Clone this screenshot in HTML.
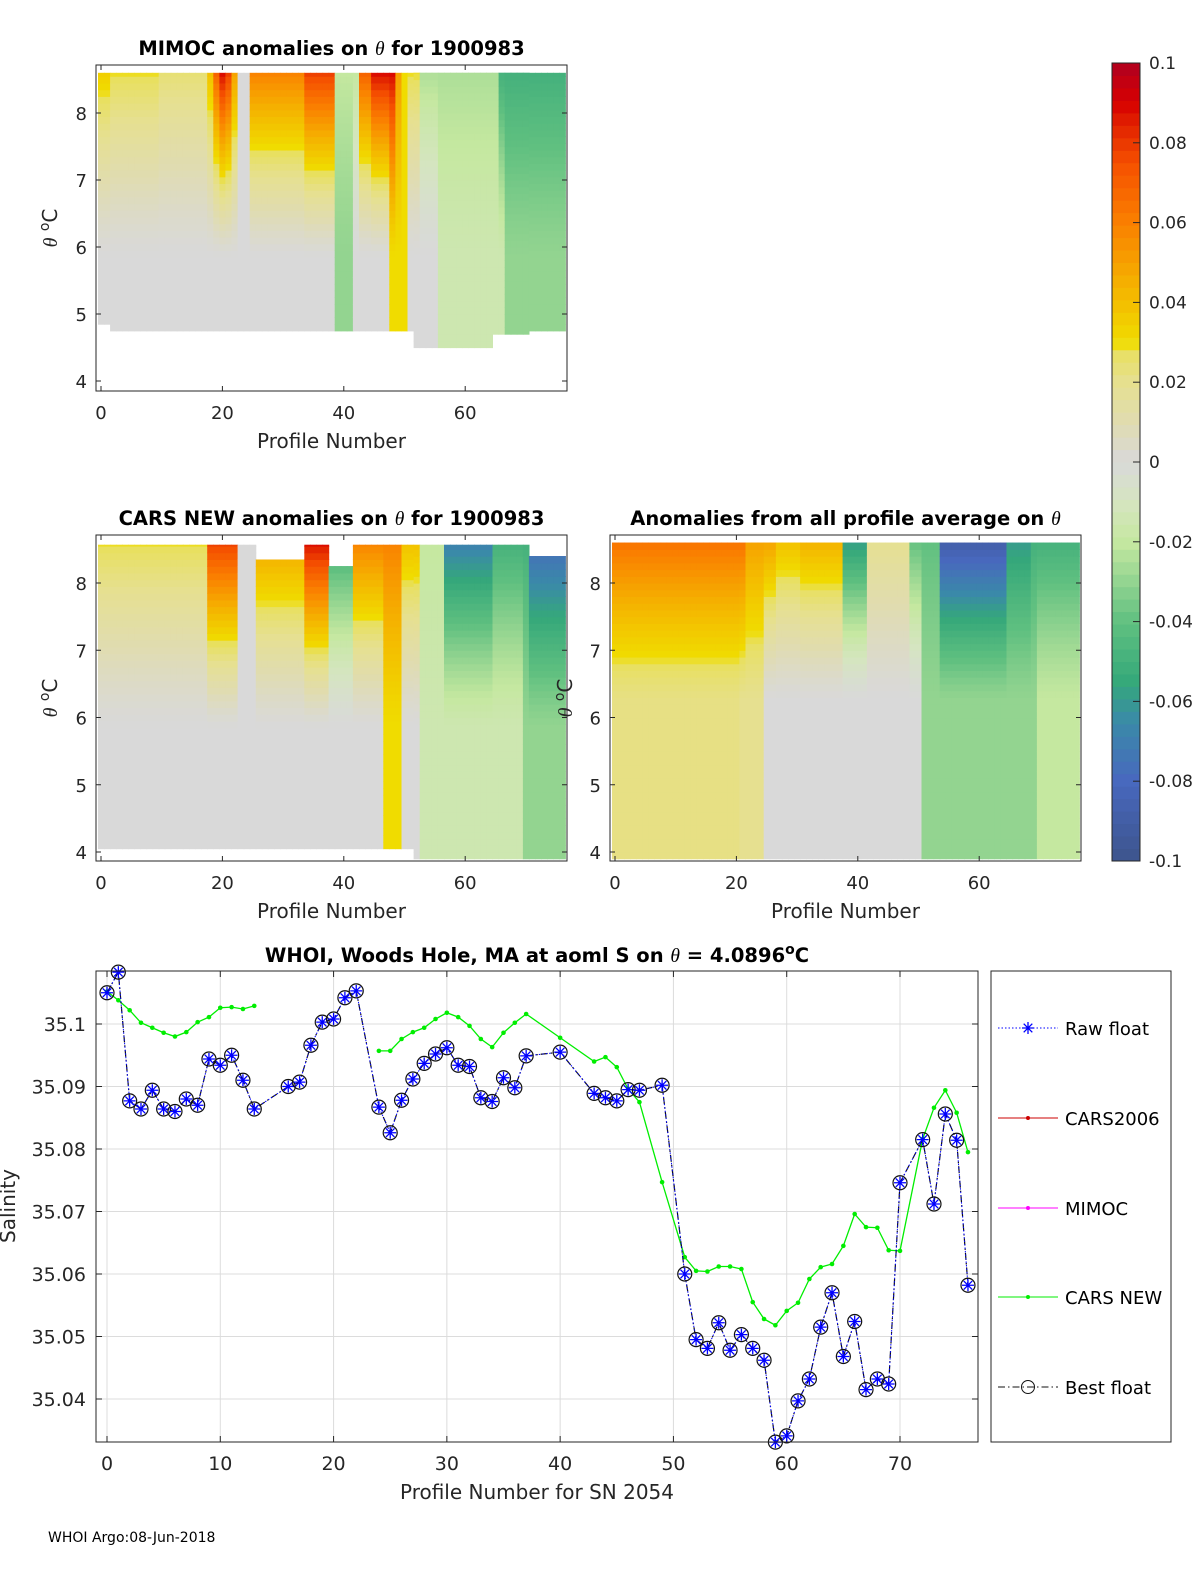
<!DOCTYPE html>
<html><head><meta charset="utf-8"><style>
body{margin:0;background:#fff;}
svg{display:block;font-family:"DejaVu Sans","Liberation Sans",sans-serif;}
</style></head><body>
<svg id="fig" width="1200" height="1575" viewBox="0 0 1200 1575" xmlns="http://www.w3.org/2000/svg">
<rect width="1200" height="1575" fill="#fff"/>
<g id="hm1"></g>
<g id="hm2"></g>
<g id="hm3"></g>
<g id="cbar"></g>
<g id="line"></g>
<text x="48" y="1542" font-size="14">WHOI Argo:08-Jun-2018</text>
</svg>
<script>
function rep(v,n){return Array(n).fill(v);}
const mimocTop=[].concat(rep(0.035,2),rep(0.03,8),rep(0.025,8),[0.04,0.07,0.09,0.08,0.05],rep(0,2),rep(0.06,9),rep(0.08,5),rep(-0.02,4),[0.07,0.07],rep(0.09,4),[0.05],rep(0.03,3),rep(-0.025,13),rep(-0.05,11));
const mimocMid=[].concat(rep(0,39),rep(-0.03,3),rep(0,6),rep(0.03,3),rep(0,5),rep(-0.015,11),rep(-0.03,10));
const carsTop=[].concat(rep(0.03,18),rep(0.08,5),rep(0,3),rep(0.05,8),rep(0.09,4),rep(-0.05,4),rep(0.06,8),rep(0.04,3),rep(-0.02,4),rep(-0.07,8),rep(-0.05,6),rep(-0.08,6));
const carsMid=[].concat(rep(0,47),rep(0.03,3),rep(0,3),rep(-0.015,17),rep(-0.03,7));
const avgTop=[].concat(rep(0.065,22),rep(0.05,5),rep(0.04,4),rep(0.045,7),rep(-0.06,4),rep(0.02,7),rep(-0.04,5),rep(-0.09,11),rep(-0.06,4),rep(-0.05,8));
const avgMid=[].concat(rep(0.022,21),rep(0.02,4),rep(0,26),rep(-0.03,19),rep(-0.02,7));

const bestX=[0,1,2,3,4,5,6,7,8,9,10,11,12,13,16,17,18,19,20,21,22,24,25,26,27,28,29,30,31,32,33,34,35,36,37,40,43,44,45,46,47,49,51,52,53,54,55,56,57,58,59,60,61,62,63,64,65,66,67,68,69,70,72,73,74,75,76];
const bestY=[35.105,35.1083,35.0877,35.0864,35.0894,35.0864,35.086,35.088,35.087,35.0944,35.0934,35.095,35.091,35.0864,35.090,35.0907,35.0966,35.1003,35.1008,35.1042,35.1053,35.0867,35.0826,35.0878,35.0912,35.0937,35.0952,35.0962,35.0934,35.0932,35.0882,35.0876,35.0914,35.0898,35.0949,35.0955,35.0889,35.0882,35.0877,35.0895,35.0894,35.0902,35.0600,35.0495,35.0481,35.0522,35.0478,35.0503,35.0481,35.0462,35.0331,35.0341,35.0397,35.0432,35.0515,35.0570,35.0468,35.0524,35.0415,35.0432,35.0424,35.0746,35.0815,35.0712,35.0856,35.0814,35.0582];
const carsX=[0,1,2,3,4,5,6,7,8,9,10,11,12,13,24,25,26,27,28,29,30,31,32,33,34,35,36,37,40,43,44,45,46,47,49,51,52,53,54,55,56,57,58,59,60,61,62,63,64,65,66,67,68,69,70,72,73,74,75,76];
const carsY=[35.1052,35.1038,35.1022,35.1002,35.0994,35.0986,35.098,35.0987,35.1003,35.1011,35.1026,35.1027,35.1024,35.1029,35.0957,35.0957,35.0976,35.0987,35.0994,35.1008,35.1018,35.1011,35.0997,35.0976,35.0963,35.0986,35.1002,35.1016,35.0978,35.094,35.0947,35.0931,35.0896,35.0875,35.0747,35.0627,35.0605,35.0604,35.0612,35.0612,35.0608,35.0555,35.0528,35.0518,35.0541,35.0554,35.0592,35.0611,35.0616,35.0645,35.0696,35.0675,35.0674,35.0638,35.0637,35.0816,35.0866,35.0894,35.0858,35.0795];
const xTicks=[0,10,20,30,40,50,60,70];
const yTicks=[35.04,35.05,35.06,35.07,35.08,35.09,35.1];
const yTickLabels=["35.04","35.05","35.06","35.07","35.08","35.09","35.1"];
const hmXTicks=[0,20,40,60];
const hmYTicks=[4,5,6,7,8];
const cbTicks=[-0.1,-0.08,-0.06,-0.04,-0.02,0,0.02,0.04,0.06,0.08,0.1];
const cbLabels=["-0.1","-0.08","-0.06","-0.04","-0.02","0","0.02","0.04","0.06","0.08","0.1"];

const NS="http://www.w3.org/2000/svg";
function el(tag,attrs,parent,txt){const e=document.createElementNS(NS,tag);for(const k in attrs)e.setAttribute(k,attrs[k]);if(txt!==undefined)e.textContent=txt;parent.appendChild(e);return e;}
const stops=[[-0.1,[61,84,140]],[-0.08,[72,104,190]],[-0.065,[58,138,168]],[-0.055,[53,168,122]],[-0.04,[96,192,128]],[-0.02,[197,232,160]],[-0.01,[213,229,192]],[0,[217,217,217]],[0.01,[224,220,176]],[0.02,[230,224,144]],[0.028,[232,224,96]],[0.03,[240,220,0]],[0.045,[245,176,0]],[0.06,[250,128,0]],[0.075,[245,80,0]],[0.085,[224,32,0]],[0.09,[216,0,0]],[0.1,[176,0,32]]];
function cmap(v){v=Math.max(-0.1,Math.min(0.1,v));for(let i=1;i<stops.length;i++){if(v<=stops[i][0]){const a=stops[i-1],b=stops[i];const t=(v-a[0])/(b[0]-a[0]);const c=a[1].map((x,j)=>Math.round(x+(b[1][j]-x)*t));return `rgb(${c[0]},${c[1]},${c[2]})`;}}return "rgb(176,0,32)";}

function heatmap(gid,box,yA,topArr,midArr,tTop,tBot,title,ylab,names,lo){
  const g=document.getElementById(gid);
  const sx=c=>box.x0+c*6.07;
  const sy=t=>yA.y8+(8-t)*yA.k;
  for(let c=0;c<topArr.length;c++){
    const tb=tBot(c),tt=tTop(c);
    for(let t=tb;t<tt;t+=0.1){
      const f=Math.max(0,Math.min(1,(t-lo)/(8.6-lo)));
      const v=midArr[c]+(topArr[c]-midArr[c])*Math.pow(f,1.3);
      const r=el('rect',{x:sx(c-0.5).toFixed(1),y:sy(Math.min(t+0.1,tt)).toFixed(1),width:6.6,height:(Math.min(0.1,tt-t)*yA.k+0.6).toFixed(1),fill:cmap(v)},g);
      
      
    }
  }
  const fr=el('rect',{x:box.x,y:box.y,width:box.w,height:box.h,fill:'none',stroke:'#262626','stroke-width':1},g);
  
  hmXTicks.forEach(v=>{const x=sx(v);el('line',{x1:x,x2:x,y1:box.y+box.h,y2:box.y+box.h-5,stroke:'#262626'},g);el('line',{x1:x,x2:x,y1:box.y,y2:box.y+5,stroke:'#262626'},g);
    const t=el('text',{x:x,y:box.y+box.h+28,'font-size':18,'text-anchor':'middle',fill:'#262626'},g,String(v));});
  hmYTicks.forEach(v=>{const y=sy(v);el('line',{x1:box.x,x2:box.x+5,y1:y,y2:y,stroke:'#262626'},g);el('line',{x1:box.x+box.w,x2:box.x+box.w-5,y1:y,y2:y,stroke:'#262626'},g);
    const t=el('text',{x:box.x-9,y:y+7,'font-size':18,'text-anchor':'end',fill:'#262626'},g,String(v));});
  const tt=el('text',{x:box.x+box.w/2,y:box.y-10,'font-size':19.5,'font-weight':'bold','text-anchor':'middle',fill:'#000'},g);
  tt.innerHTML=title;
  const xl=el('text',{x:box.x+box.w/2,y:box.y+box.h+57,'font-size':20,'text-anchor':'middle',fill:'#262626'},g,'Profile Number');
  
  const yl=el('text',{x:0,y:0,'font-size':20,'text-anchor':'middle',fill:'#262626',transform:`translate(${ylab},${box.y+box.h/2}) rotate(-90)`},g);
  yl.innerHTML='<tspan font-family="Liberation Serif" font-style="italic">θ</tspan> <tspan baseline-shift="super" font-size="14">o</tspan>C';
  
}
heatmap('hm1',{x:96,y:65,w:471,h:326,x0:101},{y8:113,k:67},mimocTop,mimocMid,
  c=>8.6,c=>(c<2?4.85:(c>=52&&c<=64?4.5:(c>=65&&c<=70?4.7:4.75))),
  'MIMOC anomalies on <tspan font-family="Liberation Serif" font-style="italic" font-weight="normal">θ</tspan>  for 1900983',57,'mimoc',5.8);
heatmap('hm2',{x:96,y:535,w:471,h:326,x0:101},{y8:583,k:67.25},carsTop,carsMid,
  c=>(c>=26&&c<=33?8.35:(c>=38&&c<=41?8.25:(c>=71?8.4:8.57))),c=>(c>=52?3.9:4.05),
  'CARS NEW anomalies on <tspan font-family="Liberation Serif" font-style="italic" font-weight="normal">θ</tspan> for 1900983',57,'cars-new',5.8);
heatmap('hm3',{x:610,y:535,w:471,h:326,x0:615},{y8:583,k:67.25},avgTop,avgMid,
  c=>8.6,c=>3.9,
  'Anomalies from all profile average on <tspan font-family="Liberation Serif" font-style="italic" font-weight="normal">θ</tspan>',572,'average',6.2);

(function(){const g=document.getElementById('cbar');const y0=63,y1=861,x=1112,w=28;
  const sy=v=>y1-(v+0.1)/0.2*(y1-y0);
  for(let i=0;i<64;i++){const v=-0.1+(i+0.5)*0.2/64;const r=el('rect',{x:x,y:sy(-0.1+(i+1)*0.2/64),width:w,height:(y1-y0)/64+0.5,fill:cmap(v)},g);}
  el('rect',{x:x,y:y0,width:w,height:y1-y0,fill:'none',stroke:'#262626'},g);
  cbTicks.forEach((v,i)=>{const y=sy(v);el('line',{x1:x+w-7,x2:x+w,y1:y,y2:y,stroke:'#262626'},g);
    const t=el('text',{x:1149,y:y+6,'font-size':17,fill:'#262626'},g,cbLabels[i]);});
})();

(function(){const g=document.getElementById('line');
  const L=96,R=978,T=971,B=1442;
  const sx=v=>107+v*(900-107)/70;
  const sy=v=>1024+(35.1-v)*6250;
  el('rect',{x:L,y:T,width:R-L,height:B-T,fill:'#fff'},g);
  xTicks.forEach(v=>{el('line',{x1:sx(v),x2:sx(v),y1:T,y2:B,stroke:'#dcdcdc'},g);
    el('line',{x1:sx(v),x2:sx(v),y1:B,y2:B-6,stroke:'#262626'},g);el('line',{x1:sx(v),x2:sx(v),y1:T,y2:T+6,stroke:'#262626'},g);
    const t=el('text',{x:sx(v),y:B+28,'font-size':19,'text-anchor':'middle',fill:'#262626'},g,String(v));});
  yTicks.forEach((v,i)=>{el('line',{x1:L,x2:R,y1:sy(v),y2:sy(v),stroke:'#dcdcdc'},g);
    el('line',{x1:L,x2:L+6,y1:sy(v),y2:sy(v),stroke:'#262626'},g);el('line',{x1:R,x2:R-6,y1:sy(v),y2:sy(v),stroke:'#262626'},g);
    const t=el('text',{x:L-10,y:sy(v)+7,'font-size':19,'text-anchor':'end',fill:'#262626'},g,yTickLabels[i]);});
  let segs=[[]];carsX.forEach((x,i)=>{if(i>0&&x-carsX[i-1]>5)segs.push([]);segs[segs.length-1].push(sx(x)+','+sy(carsY[i]));});
  segs.forEach(s=>{const p=el('polyline',{points:s.join(' '),fill:'none',stroke:'#00ee00','stroke-width':1.3},g);});
  carsX.forEach((x,i)=>{const c=el('circle',{cx:sx(x),cy:sy(carsY[i]),r:2.3,fill:'#00ee00'},g);});
  const pts=bestX.map((x,i)=>sx(x)+','+sy(bestY[i])).join(' ');
  const l1=el('polyline',{points:pts,fill:'none',stroke:'#111','stroke-width':1.2,'stroke-dasharray':'7,3,1.5,3'},g);
  const l2=el('polyline',{points:pts,fill:'none',stroke:'#0000ff','stroke-width':1,'stroke-dasharray':'1.5,2'},g);
  bestX.forEach((x,i)=>{const X=sx(x),Y=sy(bestY[i]);
    const c=el('circle',{cx:X,cy:Y,r:7,fill:'none',stroke:'#111','stroke-width':1.2},g);
    const a=el('path',{d:`M${X-6},${Y}h12M${X},${Y-6}v12M${X-4.3},${Y-4.3}l8.6,8.6M${X-4.3},${Y+4.3}l8.6,-8.6`,stroke:'#0000ff','stroke-width':1.3},g);});
  el('rect',{x:L,y:T,width:R-L,height:B-T,fill:'none',stroke:'#262626'},g);
  const tt=el('text',{x:537,y:962,'font-size':19.5,'font-weight':'bold','text-anchor':'middle'},g);
  tt.innerHTML='WHOI, Woods Hole, MA at aoml S on <tspan font-family="Liberation Serif" font-style="italic" font-weight="normal">θ</tspan> = 4.0896<tspan baseline-shift="super" font-size="14">o</tspan>C';
  
  const xl=el('text',{x:537,y:1499,'font-size':20,'text-anchor':'middle',fill:'#262626'},g,'Profile Number for SN 2054');
  const yl=el('text',{x:0,y:0,'font-size':20,'text-anchor':'middle',fill:'#262626',transform:'translate(15,1206) rotate(-90)'},g,'Salinity');
  const lg=el('g',{},g);
  el('rect',{x:991,y:971,width:180,height:471,fill:'#fff',stroke:'#262626'},lg);
  const ents=[['Raw float',1028,'raw'],['CARS2006',1118,'cars2006'],['MIMOC',1208,'mimoc'],['CARS NEW',1297,'carsnew'],['Best float',1387,'best']];
  ents.forEach(e=>{const y=e[1];const eg=el('g',{},lg);
    if(e[2]==='raw'){el('line',{x1:998,x2:1058,y1:y,y2:y,stroke:'#0000ff','stroke-dasharray':'1.5,2'},eg);el('path',{d:`M1022,${y}h12M1028,${y-6}v12M1023.7,${y-4.3}l8.6,8.6M1023.7,${y+4.3}l8.6,-8.6`,stroke:'#0000ff','stroke-width':1.3},eg);}
    if(e[2]==='cars2006'){el('line',{x1:998,x2:1058,y1:y,y2:y,stroke:'#cc0000'},eg);el('circle',{cx:1028,cy:y,r:2,fill:'#cc0000'},eg);}
    if(e[2]==='mimoc'){el('line',{x1:998,x2:1058,y1:y,y2:y,stroke:'#ff00ff'},eg);el('circle',{cx:1028,cy:y,r:2,fill:'#ff00ff'},eg);}
    if(e[2]==='carsnew'){el('line',{x1:998,x2:1058,y1:y,y2:y,stroke:'#00ee00'},eg);el('circle',{cx:1028,cy:y,r:2,fill:'#00ee00'},eg);}
    if(e[2]==='best'){el('line',{x1:998,x2:1058,y1:y,y2:y,stroke:'#111','stroke-dasharray':'7,3,1.5,3'},eg);el('circle',{cx:1028,cy:y,r:6.5,fill:'none',stroke:'#111'},eg);}
    el('text',{x:1065,y:y+7,'font-size':18,fill:'#000'},eg,e[0]);});
})();
</script>
</body></html>
